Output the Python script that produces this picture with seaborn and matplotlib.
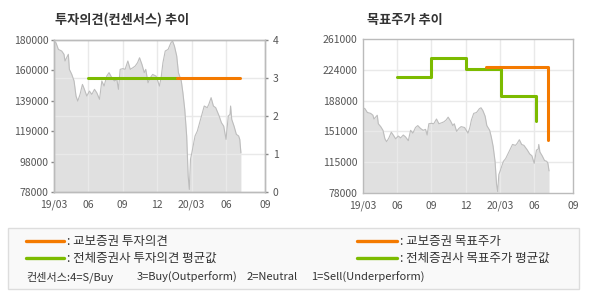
import matplotlib
matplotlib.use("Agg")
import matplotlib.pyplot as plt
from matplotlib.patches import Rectangle
from matplotlib.lines import Line2D
import seaborn as sns
import numpy as np

# ---------------- data ----------------
# time axis in months since 2019-03
months = [0, 0.17, 0.38, 0.67, 0.87, 0.96, 1.1, 1.25, 1.34, 1.55, 1.75, 1.92, 2.07, 2.27,
          2.48, 2.65, 2.86, 3.09, 3.3, 3.53, 3.73, 3.97, 4.17, 4.37, 4.6, 4.8, 5.04, 5.27,
          5.48, 5.62, 5.77, 6.0, 6.2, 6.44, 6.65, 6.88, 7.08, 7.29, 7.46, 7.67, 7.87, 8.0,
          8.2, 8.4, 8.6, 8.9, 9.2, 9.36, 9.5, 9.7, 9.95, 10.2, 10.34, 10.5, 10.7, 10.85,
          11.1, 11.24, 11.4, 11.57, 11.7, 11.8, 11.9, 12.05, 12.3, 12.5, 12.7, 12.94, 13.1,
          13.36, 13.5, 13.7, 13.9, 14.1, 14.4, 14.6, 14.8, 15.0, 15.2, 15.35, 15.4, 15.5,
          15.7, 15.9, 16.1, 16.2, 16.3]
price = [179300, 178200, 173700, 172600, 170400, 165900, 168100, 170400, 160300, 156900,
         152500, 142400, 139000, 143500, 150200, 146900, 142400, 145700, 143500, 146900,
         144600, 140200, 152500, 149100, 155800, 158100, 154700, 152500, 153600, 146900,
         160300, 160800, 160300, 165900, 160300, 161400, 162500, 164800, 168100, 163600,
         158100, 160300, 151300, 154700, 156900, 155800, 149100, 155800, 164800, 172600,
         173700, 178200, 179300, 176000, 169300, 158100, 152500, 144600, 133500, 115600,
         88700, 79700, 99800, 105500, 115600, 118900, 124500, 131200, 135700, 134600,
         136800, 141300, 135700, 134600, 129000, 124500, 122200, 113300, 129000, 130100,
         135700, 126700, 122200, 116700, 115600, 113300, 104300]

# consensus (투자의견)
cons_avg_months = [3.0, 10.73]
cons_avg = [3, 3]
cons_kb_months = [10.73, 16.2]
cons_kb = [3, 3]

# target price (목표주가)
tp_avg_months = [3.0, 6.0, 9.05, 12.05, 15.2]
tp_avg = [216000, 239000, 225000, 193000, 163000]
tp_kb_months = [10.78, 16.24]
tp_kb = [228000, 141000]

xtick_pos = [0, 3, 6, 9, 12, 15, 18.4]
xtick_labels = ["19/03", "06", "09", "12", "20/03", "06", "09"]
left_ytick_labels = ["78000", "98000", "119000", "139000", "160000", "180000"]
right_ytick_labels = ["78000", "115000", "151000", "188000", "224000", "261000"]
cons_ticks = [0, 1, 2, 3, 4]

ORANGE = "#F47A00"
GREEN = "#7CBB00"
FILL = "#E0E0E0"
EDGE = "#BDBDBD"
GRID = "#E9E9E9"
SPINE = "#BBBBBB"
TXT = "#555555"

# ---------------- style ----------------
sns.set_theme(style="white")
plt.rcParams["font.family"] = ["Noto Sans CJK KR", "DejaVu Sans"]
plt.rcParams["axes.unicode_minus"] = False

fig = plt.figure(figsize=(5.9, 3.0), dpi=100)
fig.patch.set_facecolor("white")

W, H = 590, 300
def ax_rect(x0, y0, x1, y1):
    return [x0 / W, 1 - y1 / H, (x1 - x0) / W, (y1 - y0) / H]

def style_axis(ax):
    for s in ax.spines.values():
        s.set_color(SPINE)
        s.set_linewidth(1)
    ax.tick_params(axis="both", colors="#888888", labelcolor=TXT, labelsize=7.5,
                   length=2.5, width=1, pad=1.5)
    ax.tick_params(axis="x", pad=3)

def draw_price(ax, ymin, ymax):
    ax.fill_between(months, price, ymin, color=FILL, lw=0, zorder=1)
    sns.lineplot(x=months, y=price, ax=ax, color=EDGE, lw=0.8, zorder=3, sort=False)
    ax.set_ylim(ymin, ymax)
    ax.set_xlim(0, 18.4)
    ax.set_xticks(xtick_pos)
    ax.set_xticklabels(xtick_labels)
    for x in xtick_pos[1:-1]:
        ax.axvline(x, color=GRID, lw=1, zorder=2)
    ax.set_xlabel("")
    ax.set_ylabel("")

# ---------------- left chart ----------------
axL = fig.add_axes(ax_rect(54, 40, 265, 192))
draw_price(axL, 78000, 180000)
axL.set_yticks(np.linspace(78000, 180000, 6))
axL.set_yticklabels(left_ytick_labels)
style_axis(axL)
for v in [1, 2, 3]:
    yv = 78000 + (180000 - 78000) * v / 4
    axL.axhline(yv, color=GRID, lw=1, zorder=2)

axR2 = axL.twinx()
axR2.set_ylim(0, 4)
axR2.set_yticks(cons_ticks)
axR2.set_yticklabels([str(t) for t in cons_ticks])
sns.lineplot(x=cons_avg_months, y=cons_avg, ax=axR2, color=GREEN, lw=2.2, sort=False)
sns.lineplot(x=cons_kb_months, y=cons_kb, ax=axR2, color=ORANGE, lw=2.2, sort=False)
axR2.set_xlim(0, 18.4)
axR2.set_ylabel("")
style_axis(axR2)
axR2.tick_params(axis="y", pad=3)

# ---------------- right chart ----------------
axT = fig.add_axes(ax_rect(363, 39, 573, 193))
draw_price(axT, 78000, 261000)
yt = np.linspace(78000, 261000, 6)
axT.set_yticks(yt)
axT.set_yticklabels(right_ytick_labels)
for y in yt[1:-1]:
    axT.axhline(y, color=GRID, lw=1, zorder=2)
sns.lineplot(x=tp_avg_months, y=tp_avg, ax=axT, color=GREEN, lw=2.2, sort=False,
             drawstyle="steps-post", zorder=4)
sns.lineplot(x=tp_kb_months, y=tp_kb, ax=axT, color=ORANGE, lw=2.2, sort=False,
             drawstyle="steps-post", zorder=5)
axT.set_xlabel("")
axT.set_ylabel("")
style_axis(axT)

# ---------------- titles ----------------
fig.text(55 / W, 1 - 20 / H, "투자의견(컨센서스) 추이", fontsize=9.5, fontweight="bold",
         color="#333333", ha="left", va="center")
fig.text(367 / W, 1 - 20 / H, "목표주가 추이", fontsize=9.5, fontweight="bold",
         color="#333333", ha="left", va="center")

# ---------------- legend box ----------------
fig.patches.append(Rectangle((8 / W, 1 - 289 / H), 571 / W, 61 / H, transform=fig.transFigure,
                             facecolor="#F9F9F9", edgecolor="#DDDDDD", lw=1, zorder=0))

def leg_item(x0, x1, y, color, label):
    fig.lines.append(Line2D([x0 / W, x1 / W], [1 - y / H, 1 - y / H], transform=fig.transFigure,
                            color=color, lw=2.4))
    fig.text((x1 + 3) / W, 1 - y / H, ": " + label, fontsize=9, color="#333333",
             ha="left", va="center")

leg_item(26, 64, 241, ORANGE, "교보증권 투자의견")
leg_item(26, 64, 258, GREEN, "전체증권사 투자의견 평균값")
leg_item(357, 397, 241, ORANGE, "교보증권 목표주가")
leg_item(357, 397, 258, GREEN, "전체증권사 목표주가 평균값")

for x, s in [(26, "컨센서스:4=S/Buy"), (137, "3=Buy(Outperform)"), (247, "2=Neutral"),
             (311, "1=Sell(Underperform)")]:
    fig.text(x / W, 1 - 277 / H, s, fontsize=8, color="#333333", ha="left", va="center")

fig.savefig("out.png", dpi=100, facecolor="white")
